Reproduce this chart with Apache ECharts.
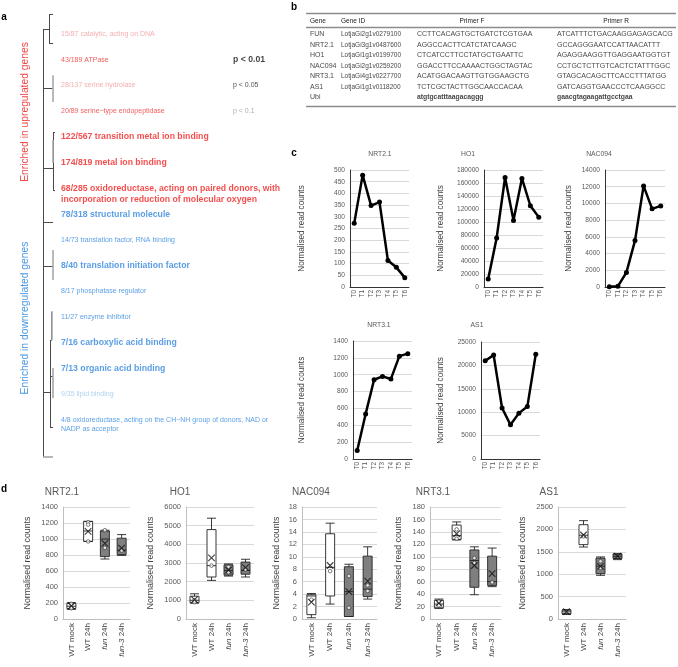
<!DOCTYPE html>
<html><head><meta charset="utf-8">
<script src="https://cdn.jsdelivr.net/npm/echarts@6/dist/echarts.min.js"></script>
<style>html,body{margin:0;padding:0;background:#fff}#c{width:678px;height:667px}</style>
</head><body><div id="c"></div><script>
// ---------------- Panel a data ----------------
const goTerms = [
  '15/87 catalytic, acting on DNA',
  '43/189 ATPase',
  '28/137 serine hydrolase',
  '20/89 serine\u2212type endopeptidase',
  '122/567 transition metal ion binding',
  '174/819 metal ion binding',
  '68/285 oxidoreductase, acting on paired donors, with\nincorporation or reduction of molecular oxygen',
  '78/318 structural molecule',
  '14/73 translation factor, RNA binding',
  '8/40 translation initiation factor',
  '8/17 phosphatase regulator',
  '11/27 enzyme inhibitor',
  '7/16 carboxylic acid binding',
  '7/13 organic acid binding',
  '9/35 lipid binding',
  '4/8 oxidoreductase, acting on the CH\u2212NH group of donors, NAD or\nNADP as acceptor'
];
const goDirection = ['up','up','up','up','up','up','up','down','down','down','down','down','down','down','down','down'];
const goSignificance = ['0.1','0.05','0.1','0.05','0.01','0.01','0.01','0.01','0.05','0.01','0.05','0.05','0.01','0.01','0.1','0.05'];
const pLegend = ['p < 0.01','p < 0.05','p < 0.1'];
const pLegendLevel = ['0.01','0.05','0.1'];
const sideLabels = ['Enriched in upregulated genes','Enriched in downregulated genes'];
// dendrogram segments: [depth1,row1,depth2,row2,tone]
const dendroSegments = [
  [0,-0.19,0,16.44,'k'],
  [0,-0.19,6,-0.19,'k'],[6,-0.78,6,0.35,'k'],[6,-0.78,10,-0.78,'k'],[6,0.35,10,0.35,'k'],
  [0,2.1,10,2.1,'k'],[10,1.6,10,2.64,'g'],
  [0,5.2,10,5.2,'k'],[10,3.81,10,6.06,'k'],[10,6.06,12,6.06,'k'],[10,3.81,12,3.81,'k'],[10,4.12,10,5.01,'g'],
  [0,7.31,10,7.31,'k'],
  [0,9.02,10,9.02,'k'],[10,8.39,10,9.56,'g'],
  [0,13.91,7,13.91,'k'],[7,11.9,7,15.3,'k'],[7,15.3,10,15.3,'k'],
  [7,11.9,8.5,11.9,'k'],[8.5,10.8,8.5,11.9,'k'],[8.5,10.8,10,10.8,'g'],[9,10.8,9,11.9,'g'],
  [7,13.3,10,13.3,'k'],[10,12.98,10,14.15,'g'],
  [0,16.44,10,16.44,'g']
];

// ---------------- Panel b data ----------------
const tableHeaders = ['Gene','Gene ID','Primer F','Primer R'];
const tableGenes = ['FUN','NRT2.1','HO1','NAC094','NRT3.1','AS1','Ubi'];
const tableGeneIds = ['LotjaGi2g1v0279100','LotjaGi3g1v0487600','LotjaGi1g1v0199700','LotjaGi2g1v0259200','LotjaGi4g1v0227700','LotjaGi1g1v0118200',''];
const tablePrimerF = ['CCTTCACAGTGCTGATCTCGTGAA','AGGCCACTTCATCTATCAAGC','CTCATCCTTCCTATGCTGAATTC','GGACCTTCCAAAACTGGCTAGTAC','ACATGGACAAGTTGTGGAAGCTG','TCTCGCTACTTGGCAACCACAA','atgtgcatttaagacaggg'];
const tablePrimerR = ['ATCATTTCTGACAAGGAGAGCACG','GCCAGGGAATCCATTAACATTT','AGAGGAAGGTTGAGGAATGGTGT','CCTGCTCTTGTCACTCTATTTGGC','GTAGCACAGCTTCACCTTTATGG','GATCAGGTGAACCCTCAAGGCC','gaacgtagaagattgcctgaa'];

// ---------------- Panel c data ----------------
const timePoints = ['T0','T1','T2','T3','T4','T5','T6'];
const cNRT21 = [272, 478, 348, 363, 113, 84, 40];
const cHO1 = [12500, 75500, 168500, 102500, 167000, 125000, 107500];
const cNAC094 = [20, 80, 1750, 5550, 12100, 9350, 9700];
const cNRT31 = [100, 535, 940, 980, 950, 1220, 1250];
const cAS1 = [21000, 22200, 10900, 7300, 9800, 11200, 22400];
const cTitles = ['NRT2.1','HO1','NAC094','NRT3.1','AS1'];
const cYMax = [500, 180000, 14000, 1400, 25000];
const cYStep = [50, 20000, 2000, 200, 5000];

// ---------------- Panel d data ----------------
const treatments = ['WT mock','WT 24h','fun 24h','fun-3 24h'];
const dTitles = ['NRT2.1','HO1','NAC094','NRT3.1','AS1'];
const dYMax = [1400, 6000, 18, 180, 2500];
const dYStep = [200, 1000, 2, 20, 500];
// [min, Q1, median, Q3, max] per treatment
const dNRT21Box = [[120,130,160,195,205],[970,970,1100,1220,1220],[750,780,1000,1100,1110],[795,805,860,1010,1055]];
const dNRT21Mean = [163,1095,945,885];
const dNRT21Pts = [[190,135],[1210,1180,970],[1110,890],[855]];
const dHO1Box = [[850,870,1000,1220,1350],[2070,2250,2860,4790,5400],[2300,2350,2600,2900,2950],[2250,2400,2600,3050,3200]];
const dHO1Mean = [1040,3270,2620,2750];
const dHO1Pts = [[1000,900],[2860],[2800,2500],[2650]];
const dNAC094Box = [[0.2,0.7,3.7,3.9,4.1],[2.4,3.7,8.3,13.7,15.4],[0.4,0.4,4.4,8.4,8.8],[3.2,3.6,4.8,10.1,11.6]];
const dNAC094Mean = [2.7,8.6,4.4,6.1];
const dNAC094Pts = [[3.1],[7.7],[6.9,1.8],[5.4,4.5]];
const dNRT31Box = [[17,18,24,30,32],[127,128,134,151,156],[39,51,94,111,116],[52,54,60,101,114]];
const dNRT31Mean = [25.5,137,86,73];
const dNRT31Pts = [[22,28],[129,144],[98,90],[59]];
const dAS1Box = [[100,120,160,195,210],[1607,1660,1870,2105,2195],[975,1012,1180,1360,1385],[1325,1350,1400,1450,1458]];
const dAS1Mean = [165,1875,1176,1405];
const dAS1Pts = [[],[1845],[1290,1140],[]];

// ---------------- build ----------------
const FONT = '"Liberation Sans", Arial, sans-serif';
const chart = echarts.init(document.getElementById('c'), null, {renderer:'canvas', width:678, height:667});
const grids = [], xAxes = [], yAxes = [], series = [], graphics = [];
const plain = v => String(v);

const sigStyle = {
  up:   {'0.01':{color:'#f31f1f',fontSize:8.7,fontWeight:'bold',lh:11},
         '0.05':{color:'#f03333',fontSize:7,fontWeight:'normal',lh:9},
         '0.1': {color:'#f39a9a',fontSize:7,fontWeight:'normal',lh:9}},
  down: {'0.01':{color:'#2f86de',fontSize:8.7,fontWeight:'bold',lh:11},
         '0.05':{color:'#3389e0',fontSize:7,fontWeight:'normal',lh:9},
         '0.1': {color:'#9cc7ef',fontSize:7,fontWeight:'normal',lh:9}}
};
const legendStyle = {'0.01':{color:'#111',fontSize:8.7,fontWeight:'bold'},'0.05':{color:'#222',fontSize:7,fontWeight:'normal'},'0.1':{color:'#999',fontSize:7,fontWeight:'normal'}};

// Panel a grid (x: depth units, y: term rows)
grids.push({left:43, top:34, width:297, height:386});
xAxes.push({type:'value', gridIndex:0, min:0, max:297, show:false});
yAxes.push({type:'value', gridIndex:0, min:0, max:15, inverse:true, show:false});
series.push({
  type:'lines', coordinateSystem:'cartesian2d', xAxisIndex:0, yAxisIndex:0, clip:false, silent:true,
  data: dendroSegments.map(s => ({coords:[[s[0],s[1]],[s[2],s[3]]],
    lineStyle:{color: s[4]==='k' ? '#4a4a4a' : '#a8a8a8', width: s[4]==='k' ? 1 : 1.6, type:'solid', opacity:1}}))
});
series.push({
  type:'scatter', xAxisIndex:0, yAxisIndex:0, symbolSize:0, clip:false, silent:true,
  data: goTerms.map((t,i) => {
    const s = sigStyle[goDirection[i]][goSignificance[i]];
    const n = t.split('\n').length;
    return {value:[18,i], name:t, label:{show:true, position:'right', distance:0, formatter:t,
      color:s.color, fontSize:s.fontSize, fontWeight:s.fontWeight, fontFamily:FONT, lineHeight:s.lh,
      offset:[0,(n-1)*s.lh/2]}};
  })
});
series.push({
  type:'scatter', xAxisIndex:0, yAxisIndex:0, symbolSize:0, clip:false, silent:true,
  data: pLegend.map((t,i) => {
    const s = legendStyle[pLegendLevel[i]];
    return {value:[190,i+1], name:t, label:{show:true, position:'right', distance:0, formatter:t,
      color:s.color, fontSize:s.fontSize, fontWeight:s.fontWeight, fontFamily:FONT}};
  })
});
graphics.push({type:'text', x:25, y:112, rotation:Math.PI/2, style:{text:sideLabels[0], fill:'#f04848', font:'10.3px '+FONT, textAlign:'center', textVerticalAlign:'middle'}});
graphics.push({type:'text', x:25, y:318, rotation:Math.PI/2, style:{text:sideLabels[1], fill:'#4a98e0', font:'10.3px '+FONT, textAlign:'center', textVerticalAlign:'middle'}});

// Panel b table
grids.push({left:306, top:29, width:369, height:73.5});
xAxes.push({type:'value', gridIndex:1, min:0, max:369, show:false});
yAxes.push({type:'category', gridIndex:1, data:tableGenes, inverse:true, show:false});
const tableCols = [
  {x:4, values:tableGenes, size:7},
  {x:35, values:tableGeneIds, size:6.5},
  {x:111, values:tablePrimerF, size:7},
  {x:251, values:tablePrimerR, size:7}
];
tableCols.forEach(col => {
  series.push({type:'scatter', xAxisIndex:1, yAxisIndex:1, symbolSize:0, clip:false, silent:true,
    data: col.values.map((v,i) => ({value:[col.x,i], name:v, label:{show:true, position:'right', distance:0, formatter:v,
      color:'#111', fontSize: (i===6 && col.x>100) ? 6.8 : col.size, fontWeight:(i===6 && col.x>100)?'bold':'normal', fontFamily:FONT}}))
  });
});
const headerPos = [[310,'left'],[341,'left'],[472,'center'],[616,'center']];
tableHeaders.forEach((h,i) => graphics.push({type:'text', x:headerPos[i][0], y:21, style:{text:h, fill:'#222', font:'6.5px '+FONT, textAlign:headerPos[i][1], textVerticalAlign:'middle'}}));
[[13.5,1.3],[27.5,1.3],[106.5,1.3]].forEach(l => graphics.push({type:'line', shape:{x1:306,y1:l[0],x2:676,y2:l[0]}, style:{stroke:'#8c8c8c', lineWidth:l[1]}}));

// Panel c line charts
const cData = [cNRT21, cHO1, cNAC094, cNRT31, cAS1];
const cLayout = [
  {grid:{left:350,top:170,width:59,height:117}, gap:44, tx:380, ty:154},
  {grid:{left:484,top:170,width:59,height:117}, gap:39, tx:468, ty:154},
  {grid:{left:605,top:170,width:60,height:117}, gap:32, tx:599, ty:154},
  {grid:{left:353,top:341,width:59,height:118}, gap:47, tx:379, ty:325},
  {grid:{left:481,top:342,width:59,height:117}, gap:36, tx:477, ty:325}
];
cLayout.forEach((L,k) => {
  const gi = grids.length;
  grids.push(L.grid);
  xAxes.push({type:'category', gridIndex:gi, data:timePoints, boundaryGap:true,
    axisLine:{lineStyle:{color:'#333', width:1}}, axisTick:{show:false},
    axisLabel:{rotate:90, fontSize:6.4, color:'#595959', margin:3, fontFamily:FONT, interval:0}});
  yAxes.push({type:'value', gridIndex:gi, min:0, max:cYMax[k], interval:cYStep[k],
    name:'Normalised read counts', nameLocation:'middle', nameGap:L.gap,
    nameTextStyle:{fontSize:8.2, color:'#404040', fontFamily:FONT},
    axisLine:{show:true, lineStyle:{color:'#333', width:1}}, axisTick:{show:false},
    axisLabel:{fontSize:6.6, color:'#595959', margin:5, fontFamily:FONT, formatter:plain},
    splitLine:{lineStyle:{color:'#d9d9d9', width:1}}});
  series.push({type:'line', xAxisIndex:gi, yAxisIndex:gi, data:cData[k], symbol:'circle', symbolSize:5,
    lineStyle:{color:'#000', width:2.5}, itemStyle:{color:'#000'}, silent:true, animation:false});
  graphics.push({type:'text', x:L.tx, y:L.ty, style:{text:cTitles[k], fill:'#595959', font:'6.8px '+FONT, textAlign:'center', textVerticalAlign:'middle'}});
});

// Panel d box plots
const dBoxes = [dNRT21Box, dHO1Box, dNAC094Box, dNRT31Box, dAS1Box];
const dMeans = [dNRT21Mean, dHO1Mean, dNAC094Mean, dNRT31Mean, dAS1Mean];
const dPts = [dNRT21Pts, dHO1Pts, dNAC094Pts, dNRT31Pts, dAS1Pts];
const boxFill = ['#ffffff','#ffffff','#7f7f7f','#7f7f7f'];
const dLayout = [
  {grid:{left:63,top:507,width:67,height:112}, gap:31, tx:62},
  {grid:{left:186,top:507,width:68,height:112}, gap:31, tx:180},
  {grid:{left:302,top:507,width:75,height:112}, gap:21, tx:311},
  {grid:{left:430,top:507,width:71,height:112}, gap:27, tx:433},
  {grid:{left:558,top:507,width:68,height:112}, gap:31, tx:549}
];
const catLabel = v => { const p = v.split(' '); return p[0].startsWith('fun') ? '{i|'+p[0]+'} '+p[1] : v; };
dLayout.forEach((L,k) => {
  const gi = grids.length;
  grids.push(L.grid);
  xAxes.push({type:'category', gridIndex:gi, data:treatments, boundaryGap:true,
    axisLine:{lineStyle:{color:'#bfbfbf', width:1}}, axisTick:{show:false},
    axisLabel:{rotate:90, fontSize:8, color:'#404040', margin:4, fontFamily:FONT, interval:0, formatter:catLabel,
      rich:{i:{fontStyle:'italic', fontSize:8, color:'#404040', fontFamily:FONT}}}});
  yAxes.push({type:'value', gridIndex:gi, min:0, max:dYMax[k], interval:dYStep[k],
    name:'Normalised read counts', nameLocation:'middle', nameGap:L.gap,
    nameTextStyle:{fontSize:8.8, color:'#404040', fontFamily:FONT},
    axisLine:{show:true, lineStyle:{color:'#bfbfbf', width:1}}, axisTick:{show:false},
    axisLabel:{fontSize:7.5, color:'#595959', margin:5, fontFamily:FONT, formatter:plain},
    splitLine:{lineStyle:{color:'#d9d9d9', width:1}}});
  series.push({type:'boxplot', xAxisIndex:gi, yAxisIndex:gi, boxWidth:[9,9], silent:true, animation:false,
    data: dBoxes[k].map((b,i) => ({value:b, itemStyle:{color:boxFill[i], borderColor:'#222', borderWidth:0.9}}))});
  const pts = [];
  dPts[k].forEach((arr,i) => arr.forEach(v => pts.push([i,v])));
  series.push({type:'scatter', xAxisIndex:gi, yAxisIndex:gi, data:pts, symbol:'circle', symbolSize:3.6, silent:true, animation:false,
    itemStyle:{color:'#ffffff', borderColor:'#333', borderWidth:0.8}, z:3});
  series.push({type:'scatter', xAxisIndex:gi, yAxisIndex:gi, data:dMeans[k].map((v,i)=>[i,v]),
    symbol:'path://M0,0L10,10M10,0L0,10', symbolSize:6.5, silent:true, animation:false,
    itemStyle:{color:'transparent', borderColor:'#111', borderWidth:1.1}, z:4});
  graphics.push({type:'text', x:L.tx, y:492, style:{text:dTitles[k], fill:'#595959', font:'10px '+FONT, textAlign:'center', textVerticalAlign:'middle'}});
});

// panel letters
[['a',4,17],['b',294,7],['c',294,153],['d',4,489]].forEach(p =>
  graphics.push({type:'text', x:p[1], y:p[2], style:{text:p[0], fill:'#000', font:'bold 10px '+FONT, textAlign:'center', textVerticalAlign:'middle'}}));

chart.setOption({
  animation:false,
  backgroundColor:'#ffffff',
  textStyle:{fontFamily:FONT},
  grid:grids, xAxis:xAxes, yAxis:yAxes, series:series,
  graphic:{elements:graphics}
});
</script></body></html>
